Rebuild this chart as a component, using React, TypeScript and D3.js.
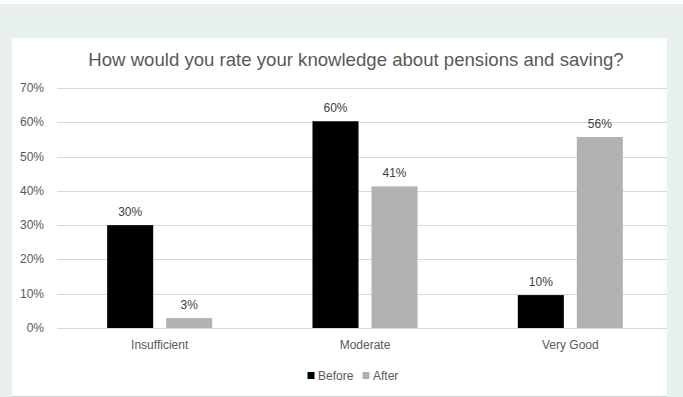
import React from "react";
import * as d3 from "d3";

const title = "How would you rate your knowledge about pensions and saving?";
const categories = ["Insufficient", "Moderate", "Very Good"];
const seriesNames = ["Before", "After"];
const beforeValues = [0.30, 0.603, 0.096];
const afterValues = [0.029, 0.413, 0.557];
const seriesColors = ["#000000", "#b2b2b2"];
const yTicks = [0, 0.1, 0.2, 0.3, 0.4, 0.5, 0.6, 0.7];

const W = 683;
const H = 397;
const panel = { x: 12, y: 38, r: 667, b: 396 };
const plot = { left: 57, right: 673, top: 88, bottom: 328 };
const FONT = "'Liberation Sans', Arial, sans-serif";

export default function App() {
  const x = d3.scaleBand<string>().domain(categories).range([plot.left, plot.right]).paddingInner(0).paddingOuter(0);
  const xs = d3.scaleBand<string>().domain(seriesNames).range([0, x.bandwidth()]).paddingInner(0.22).paddingOuter(0.85);
  const y = d3.scaleLinear().domain([0, 0.7]).range([plot.bottom, plot.top]);
  const fmt = d3.format(".0%");
  const series = [beforeValues, afterValues];

  return (
    <div style={{ position: "fixed", left: 0, top: 0, width: W, height: H }}>
      <svg width={W} height={H} style={{ display: "block" }} fontFamily={FONT}>
        <defs>
          <clipPath id="pc">
            <rect x={panel.x} y={panel.y} width={panel.r - panel.x} height={panel.b - panel.y} />
          </clipPath>
        </defs>
        <rect x={0} y={0} width={W} height={H} fill="#ffffff" />
        <rect x={0} y={4} width={W} height={H - 4} fill="#e8f1f0" />
        <rect x={panel.x} y={panel.y} width={panel.r - panel.x} height={panel.b - panel.y} fill="#ffffff" />
        <line x1={panel.x} x2={panel.r} y1={panel.b + 0.5} y2={panel.b + 0.5} stroke="#d0d0d0" />
        <text x={356} y={66} textAnchor="middle" fontSize={18.6} fill="#595959">{title}</text>
        <g clipPath="url(#pc)">
          {yTicks.map((t) => (
            <line key={t} x1={plot.left} x2={plot.right} y1={Math.round(y(t)) + 0.5} y2={Math.round(y(t)) + 0.5} stroke="#d9d9d9" />
          ))}
          {categories.map((c, i) =>
            seriesNames.map((s, j) => {
              const v = series[j][i];
              const bx = (x(c) ?? 0) + (xs(s) ?? 0);
              return (
                <g key={c + s}>
                  <rect x={bx} y={y(v)} width={xs.bandwidth()} height={y(0) - y(v)} fill={seriesColors[j]} />
                  <text x={bx + xs.bandwidth() / 2} y={y(v) - 9} textAnchor="middle" fontSize={12} fill="#404040">{fmt(v)}</text>
                </g>
              );
            })
          )}
        </g>
        {yTicks.map((t) => (
          <text key={t} x={44} y={y(t) + 4} textAnchor="end" fontSize={12} fill="#595959">{fmt(t)}</text>
        ))}
        {categories.map((c) => (
          <text key={c} x={(x(c) ?? 0) + x.bandwidth() / 2} y={349} textAnchor="middle" fontSize={12} fill="#595959">{c}</text>
        ))}
        <g>
          <rect x={307.5} y={372} width={7} height={7} fill={seriesColors[0]} />
          <text x={318} y={379.5} fontSize={12} fill="#595959">{seriesNames[0]}</text>
          <rect x={362.5} y={372} width={7} height={7} fill={seriesColors[1]} />
          <text x={373} y={379.5} fontSize={12} fill="#595959">{seriesNames[1]}</text>
        </g>
      </svg>
    </div>
  );
}
